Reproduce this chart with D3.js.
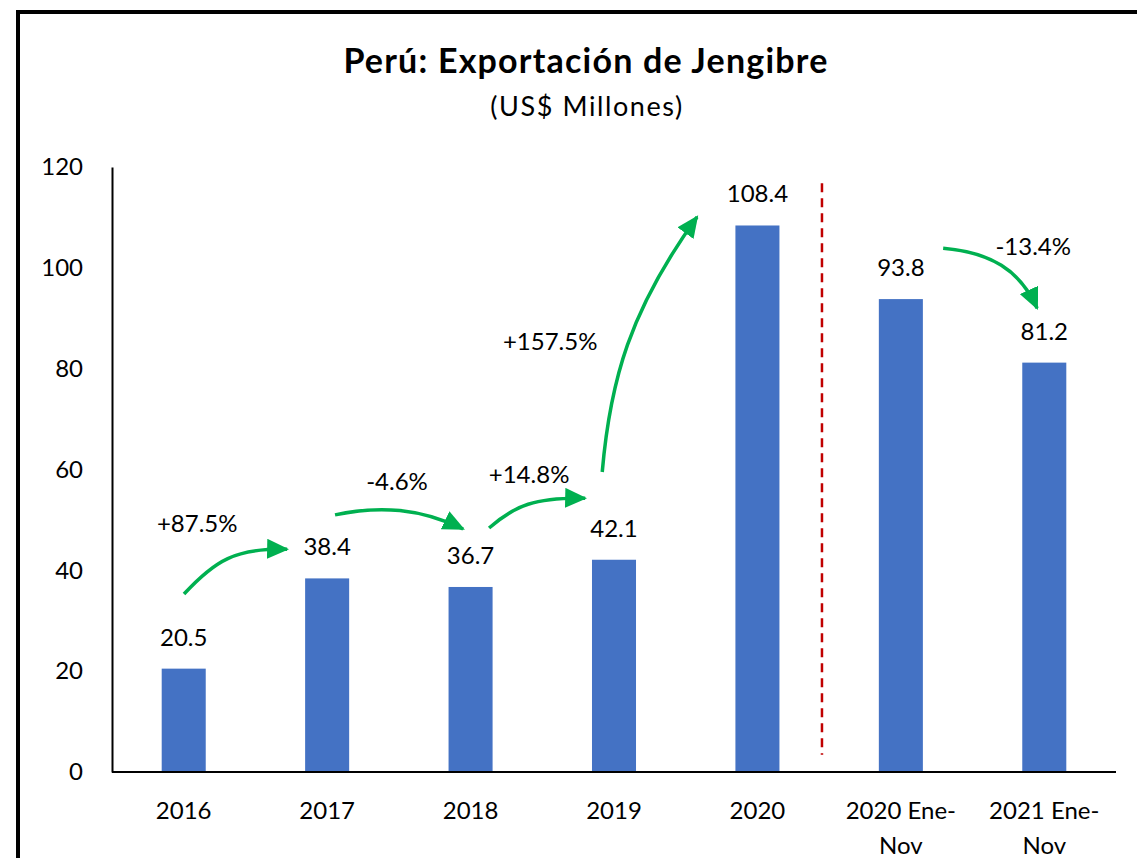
<!DOCTYPE html>
<html>
<head>
<meta charset="utf-8">
<script src="https://cdn.jsdelivr.net/npm/d3@7"></script>
<style>
  body { margin: 0; background: #fff; }
  svg { display: block; font-family: Lato, "Open Sans", sans-serif; }
</style>
</head>
<body>
<svg id="chart" width="1137" height="858"></svg>
<script>
// datos
const categories = [["2016"], ["2017"], ["2018"], ["2019"], ["2020"], ["2020 Ene-", "Nov"], ["2021 Ene-", "Nov"]]
const values = [20.5, 38.4, 36.7, 42.1, 108.4, 93.8, 81.2]
const yTicks = [0, 20, 40, 60, 80, 100, 120]

// flechas de variación: puntos en (índice de categoría, valor)
const arrowLabels = ["+87.5%", "-4.6%", "+14.8%", "+157.5%", "-13.4%"]
const arrowLabelPos = [[0.094, 47.6], [1.487, 55.9], [2.408, 57.3], [2.555, 83.7], [5.923, 102.5]]
const arrowPaths = [
    [[0.002, 35.3], [0.219, 42.0], [0.359, 44.4], [0.721, 44.2]],
    [[1.055, 51.0], [1.369, 52.9], [1.648, 52.3], [1.948, 48.2]],
    [[2.129, 48.4], [2.311, 52.9], [2.450, 54.5], [2.799, 54.3]],
    [[2.918, 59.5], [2.973, 77.8], [3.112, 91.6], [3.579, 110.1]],
    [[5.295, 103.9], [5.623, 103.1], [5.830, 99.6], [5.950, 92.0]]
]
const dividerAt = 4.45 // entre 2020 y 2020 Ene-Nov
const dividerRange = [3.4, 116.8]

const margin = { top: 167, left: 112, right: 21, bottom: 86 }
const svg = d3.select('#chart')
const W = +svg.attr('width'), H = +svg.attr('height')

// marco exterior
svg.append('rect')
    .attr('x', 18).attr('y', 12)
    .attr('width', W + 40).attr('height', H + 40)
    .attr('fill', 'none')
    .attr('stroke', '#000')
    .attr('stroke-width', 4)

svg.append('text')
    .attr('x', 586).attr('y', 73)
    .attr('text-anchor', 'middle')
    .attr('font-size', 34)
    .attr('font-weight', 'bold')
    .attr('letter-spacing', 1.2)
    .text('Perú: Exportación de Jengibre')
svg.append('text')
    .attr('x', 587).attr('y', 116)
    .attr('text-anchor', 'middle')
    .attr('font-size', 27)
    .attr('letter-spacing', 1.6)
    .text('(US$ Millones)')

const x = d3.scaleBand()
    .domain(d3.range(categories.length))
    .range([margin.left, W - margin.right])
    .paddingInner(0.693)
    .paddingOuter(0.3465)
const y = d3.scaleLinear()
    .domain([0, 120])
    .range([H - margin.bottom - 0, margin.top])

const step = x.step()
const xIdx = (i) => x(0) + x.bandwidth() / 2 + i * step // posición continua por índice

// eje y
const yAxis = svg.append('g')
    .attr('transform', `translate(${margin.left},0)`)
    .call(d3.axisLeft(y).tickValues(yTicks).tickSize(0).tickPadding(29))
yAxis.select('.domain').attr('stroke', '#000').attr('stroke-width', 2)
yAxis.selectAll('text')
    .attr('font-size', 24)
    .attr('font-family', 'Lato, sans-serif')
    .attr('fill', '#000')

// barras
svg.selectAll('.bar')
    .data(values)
    .join('rect')
    .attr('class', 'bar')
    .attr('x', (d, i) => x(i))
    .attr('y', (d) => y(d))
    .attr('width', x.bandwidth())
    .attr('height', (d) => y(0) - y(d))
    .attr('fill', '#4472C4')

// eje x
svg.append('line')
    .attr('x1', margin.left).attr('x2', W - margin.right)
    .attr('y1', y(0)).attr('y2', y(0))
    .attr('stroke', '#000').attr('stroke-width', 2)

const xlab = svg.selectAll('.xlab')
    .data(categories)
    .join('text')
    .attr('class', 'xlab')
    .attr('text-anchor', 'middle')
    .attr('font-size', 24)
    .attr('y', y(0) + 47)
xlab.selectAll('tspan')
    .data((d, i) => d.map((t) => ({ t, i })))
    .join('tspan')
    .attr('x', (d) => xIdx(d.i))
    .attr('dy', (d, j) => j === 0 ? 0 : 35)
    .text((d) => d.t)

// etiquetas de datos
svg.selectAll('.vlab')
    .data(values)
    .join('text')
    .attr('class', 'vlab')
    .attr('text-anchor', 'middle')
    .attr('font-size', 24)
    .attr('x', (d, i) => xIdx(i))
    .attr('y', (d) => y(d) - 23)
    .text((d) => d.toFixed(1))

// línea divisoria
svg.append('line')
    .attr('x1', xIdx(dividerAt)).attr('x2', xIdx(dividerAt))
    .attr('y1', y(dividerRange[1])).attr('y2', y(dividerRange[0]))
    .attr('stroke', '#C00000')
    .attr('stroke-width', 2.5)
    .attr('stroke-dasharray', '9,6')

// flechas verdes
const green = '#00B050'
svg.append('defs').append('marker')
    .attr('id', 'head')
    .attr('markerUnits', 'userSpaceOnUse')
    .attr('viewBox', '0 0 22 20')
    .attr('markerWidth', 22).attr('markerHeight', 20)
    .attr('refX', 20).attr('refY', 10)
    .attr('orient', 'auto')
    .append('path')
    .attr('d', 'M0,0 L22,10 L0,20 Z')
    .attr('fill', green)

svg.selectAll('.arrow')
    .data(arrowPaths)
    .join('path')
    .attr('class', 'arrow')
    .attr('d', (p) => {
        const q = p.map(([i, v]) => [xIdx(i), y(v)])
        return `M${q[0]} C${q[1]} ${q[2]} ${q[3]}`
    })
    .attr('fill', 'none')
    .attr('stroke', green)
    .attr('stroke-width', 3.5)
    .attr('marker-end', 'url(#head)')

svg.selectAll('.alab')
    .data(arrowLabels)
    .join('text')
    .attr('class', 'alab')
    .attr('text-anchor', 'middle')
    .attr('font-size', 24)
    .attr('x', (d, i) => xIdx(arrowLabelPos[i][0]))
    .attr('y', (d, i) => y(arrowLabelPos[i][1]))
    .text((d) => d)
</script>
</body>
</html>
